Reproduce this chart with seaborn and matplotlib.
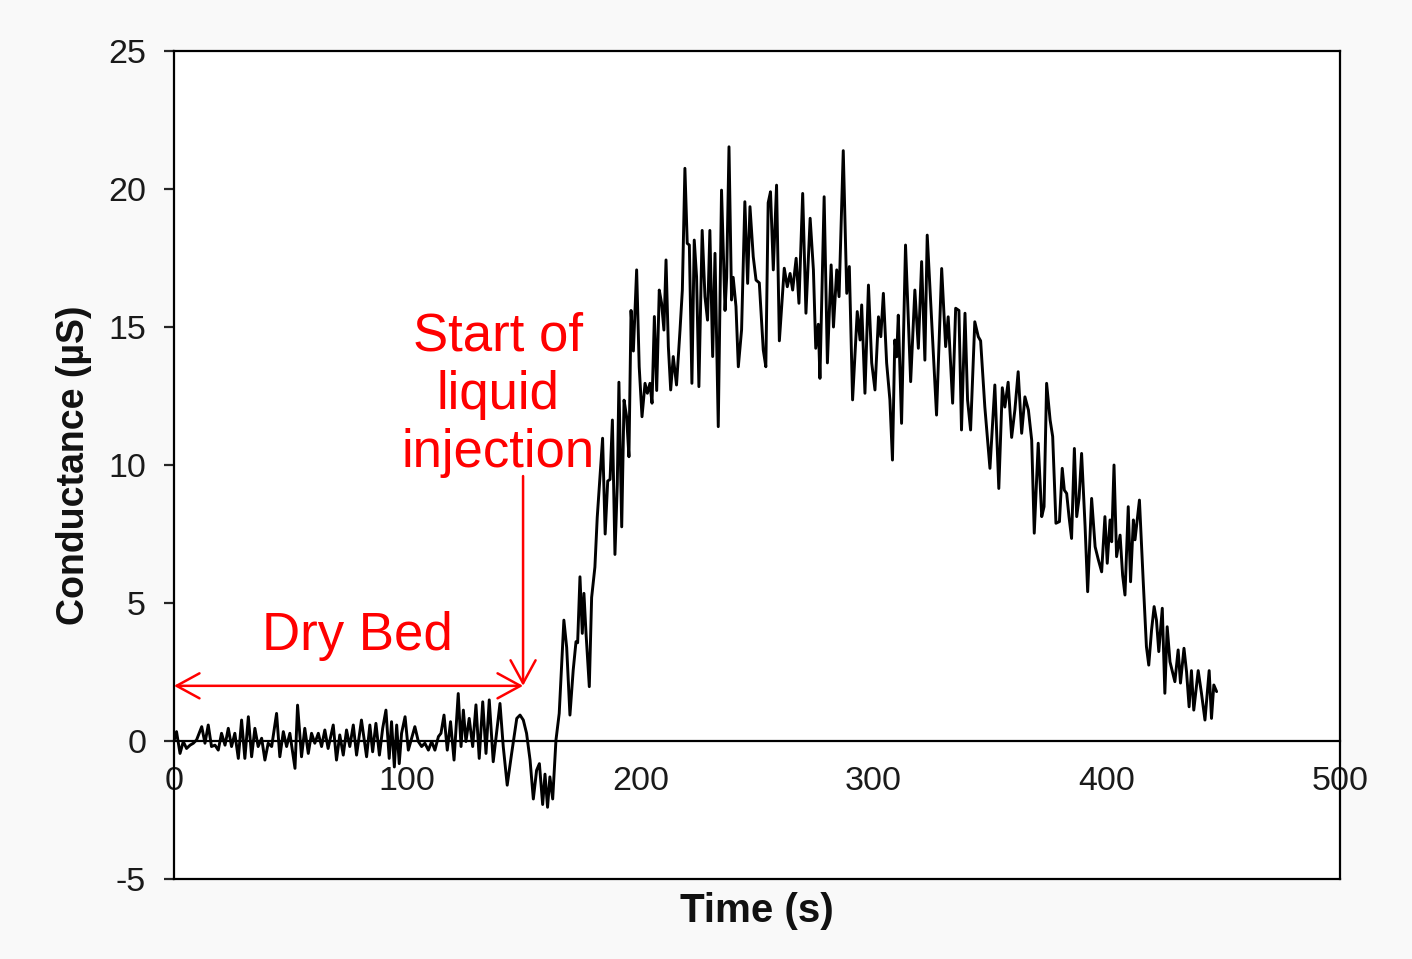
import matplotlib
matplotlib.use("Agg")
import matplotlib.pyplot as plt
import seaborn as sns
import pandas as pd

# ---------------- data ----------------
time_s = [
    0.0, 1.1, 2.6, 4.0, 5.4, 6.9, 8.3, 9.7, 11.9, 13.3, 14.7, 16.1, 17.6, 19.0, 20.4, 21.9,
    23.3, 24.7, 26.1, 27.6, 29.0, 30.4, 31.9, 33.3, 34.7, 36.1, 37.6, 39.0, 40.4, 41.9, 44.0,
    45.4, 46.9, 48.3, 49.7, 51.9, 53.0, 54.7, 56.1, 57.6, 59.0, 60.4, 61.9, 63.3, 64.7, 66.1,
    68.3, 69.7, 71.1, 72.6, 74.0, 75.4, 76.9, 78.3, 80.4,
    82.6, 84.0, 85.2, 86.6, 88.1, 89.5, 90.9, 92.3, 93.3, 94.5, 95.5, 96.6, 97.6, 99.1, 100.5,
    101.9, 103.3, 104.8, 106.2, 107.6, 109.1, 110.5, 111.9, 113.4, 114.5, 115.8, 117.2, 118.6,
    120.1, 121.9, 123.1, 124.1, 125.2, 126.6, 128.1, 129.5, 130.9, 132.4, 133.8, 135.2, 136.9,
    138.4, 139.8, 141.2, 142.9, 144.8, 147.0, 148.4, 149.8, 151.2, 152.7, 154.1, 155.5, 156.7,
    158.1, 159.1, 160.2, 161.2, 162.4, 163.8,
    165.2, 167.2, 168.4, 169.8, 171.2, 172.4, 173.1, 174.1, 175.1, 175.8, 176.7, 178.1, 179.1,
    180.5, 181.5, 182.7, 183.8, 184.9, 186.0, 187.0, 188.0, 189.1, 190.1, 190.8, 192.0, 193.0,
    194.1, 195.1, 196.0, 197.0, 198.4, 199.5, 200.7, 202.0, 203.0, 204.1, 205.0, 206.0, 207.0,
    208.1, 209.1, 210.1, 211.0, 212.0, 213.0, 214.1, 215.5, 217.0, 218.0, 219.1, 220.1, 221.0,
    222.1, 223.1, 224.1, 225.1, 226.5, 227.7, 228.8, 229.8, 231.0, 232.0, 233.4, 234.8, 236.3,
    237.0, 238.0, 239.1, 239.8, 241.0, 242.0, 243.4, 244.8, 246.0, 247.0, 248.4, 249.6, 251.0,
    252.7, 253.8, 254.8, 255.8, 257.0, 258.4, 259.6,
    261.7, 263.0, 264.2, 265.3, 266.8, 268.0, 269.6, 271.0, 272.8, 274.2, 275.2, 276.3, 277.0,
    278.8, 280.2, 281.8, 282.8, 284.2, 285.2, 287.0, 288.5, 289.6, 291.0, 293.0, 294.2, 294.9,
    296.3, 297.8, 299.2, 300.6, 302.1, 303.1, 304.2, 305.6,
    307.0, 308.1, 309.1, 309.9, 310.6, 312.0, 313.7, 315.9, 317.7, 319.2, 320.6, 322.0, 323.0,
    327.0, 329.2, 330.9, 332.0, 333.9, 335.2, 336.6, 337.7, 339.2, 340.3, 341.6, 343.4, 344.9,
    345.9, 347.7, 349.9, 352.0, 353.7, 355.2, 356.3, 357.7, 359.2, 360.6, 362.0,
    363.5, 364.9, 366.4, 367.8, 368.9, 370.6, 372.1, 373.1, 374.2, 375.7, 376.8, 378.2, 379.7,
    380.9, 381.8, 382.8, 383.8, 384.9, 386.1, 387.1, 388.1, 389.2, 390.7, 391.8, 393.5, 395.0,
    396.4, 397.8, 399.2, 400.2, 401.4, 402.1, 403.1, 404.2, 405.7, 406.8, 407.8, 409.2, 410.2,
    411.4, 412.1, 414.0,
    415.6, 417.0, 418.0, 419.2, 420.3, 421.3, 422.3, 423.8, 424.9, 425.9, 427.1, 429.2, 430.6,
    431.6, 433.1, 434.2, 435.3, 436.3, 437.3, 439.2, 440.6, 442.1, 443.9, 444.9, 445.9, 447.1,
]

conductance_uS = [
    0.0, 0.34, -0.45, -0.02, -0.27, -0.15, -0.08, 0.04, 0.52, -0.08, 0.58, -0.2, -0.15, -0.33,
    0.28, -0.15, 0.46, -0.2, 0.28, -0.63, 0.76, -0.63, 0.88, -0.57, 0.46, -0.2, 0.1, -0.69,
    -0.08, -0.2, 1.0, -0.57, 0.34, -0.2, 0.28, -0.99, 1.3, -0.57, 0.46, -0.45, 0.28, -0.08,
    0.28, -0.2, 0.4, -0.27, 0.58, -0.69, 0.22, -0.51, 0.4, -0.2, 0.58, -0.51, 0.76,
    -0.57, 0.58, -0.39, 0.64, -0.51, 0.46, 1.12, -0.63, 0.70, -0.94, 0.58, -0.82, 0.28, 0.88,
    -0.33, 0.10, 0.52, -0.02, -0.2, -0.08, -0.33, -0.02, -0.33, 0.16, 0.28, 0.94, -0.33, 0.70,
    -0.69, 1.72, -0.2, 1.12, -0.02, 0.82, -0.2, 1.31, -0.63, 1.42, -0.45, 1.49, -0.75,
    0.34, 1.36, -0.2, -1.6, -0.45, 0.82, 0.94, 0.76, 0.28, -0.69, -2.1, -1.06, -0.82,
    -2.3, -1.2, -2.4, -1.3, -2.1, 0.03,
    1.0, 4.38, 3.39, 0.94, 2.57, 3.6, 3.56, 5.95, 3.9, 5.35, 3.9, 1.97, 5.2,
    6.3, 8.1, 9.58, 10.97, 7.5, 9.42, 9.48, 11.63, 6.76, 9.3, 13.0, 7.76, 12.35,
    11.75, 10.3, 15.6, 14.13, 17.07, 13.56, 11.75, 12.96, 12.6, 12.96, 12.24, 15.38, 12.7,
    16.34, 15.86, 14.89, 17.43, 14.29, 12.72, 13.93, 12.9, 14.89, 16.34, 20.75, 18.03, 17.97,
    12.96, 18.15, 16.82, 12.84, 18.5, 16.1, 15.25, 18.5, 13.93, 17.67, 11.39, 19.96, 15.6,
    16.8, 21.53, 15.98, 16.8, 15.74, 13.56, 14.9, 19.54, 16.58, 19.36, 17.55, 16.7, 16.6,
    14.17, 13.56, 19.5, 19.9, 17.07, 20.14, 14.5,
    17.13, 16.46, 16.94, 16.34, 17.49, 15.86, 19.84, 15.5, 18.94, 17.07, 14.23, 15.1, 13.14,
    19.72, 13.7, 17.25, 15.0, 17.07, 16.1, 21.39, 16.22, 17.19, 12.36, 15.56, 14.53, 15.8,
    12.6, 16.52, 13.7, 12.72, 15.37, 14.65, 16.22, 13.7,
    12.36, 10.18, 14.53, 13.92, 15.43, 11.51, 17.97, 13.02, 16.34, 14.23, 17.37, 13.8, 18.33,
    11.81, 17.12, 14.29, 15.37, 12.24, 15.68, 15.6, 11.27, 15.5, 12.36, 11.27, 15.19, 14.65,
    14.5, 12.11, 9.88, 12.9, 9.15, 12.8, 12.1, 13.0, 11.0, 12.0, 13.38,
    11.15, 12.47, 11.99, 10.9, 7.53, 10.79, 8.13, 8.49, 12.96, 11.63, 11.03, 7.89, 7.95,
    9.88, 9.09, 8.97, 8.13, 7.34, 10.6, 8.13, 8.79, 10.42, 7.77, 5.41, 8.79, 7.04,
    6.56, 6.13, 8.13, 6.44, 8.01, 7.22, 10.0, 6.68, 7.46, 6.0, 5.29, 8.49, 5.77,
    8.01, 7.29, 8.73,
    5.83, 3.42, 2.75, 4.02, 4.87, 4.38, 3.24, 4.81, 1.73, 4.14, 2.87, 2.15, 3.3,
    2.1, 3.36, 2.51, 1.24, 2.55, 1.12, 2.55, 1.73, 0.76, 2.55, 0.82, 2.03, 1.79,
]

x_ticks = [0, 100, 200, 300, 400, 500]
y_ticks = [-5, 0, 5, 10, 15, 20, 25]
x_label = "Time (s)"
y_label = "Conductance (µS)"
dry_bed_label = "Dry Bed"
injection_label = "Start of\nliquid\ninjection"
dry_bed_end = 149.7          # s, end of the dry-bed period (arrow tip)
arrow_level = 2.0            # µS, height of the dry-bed arrow
injection_arrow_top = 9.6    # µS, top of the injection pointer

# ---------------- style ----------------
sns.set_style("white")
plt.rcParams["font.family"] = ["Liberation Sans", "DejaVu Sans"]
plt.rcParams["axes.unicode_minus"] = False
RED = "#ff0000"

df = pd.DataFrame({"t": time_s, "g": conductance_uS})

fig = plt.figure(figsize=(14.12, 9.59), dpi=100, facecolor="#f9f9f9")
ax = fig.add_axes([0.1232, 0.0834, 0.8258, 0.8634])
ax.set_facecolor("white")

sns.lineplot(data=df, x="t", y="g", ax=ax, color="black", linewidth=2.1,
             estimator=None, sort=False)
for ln in ax.get_lines():
    ln.set_solid_joinstyle("round")

ax.set_xlim(0, 500)
ax.set_ylim(-5, 25)
ax.set_xticks(x_ticks)
ax.set_yticks(y_ticks)

# spines: full box, with the x axis drawn through y = 0
for s in ["left", "right", "top", "bottom"]:
    ax.spines[s].set_visible(True)
    ax.spines[s].set_color("black")
    ax.spines[s].set_linewidth(1.6)
ax.spines["bottom"].set_position(("data", 0))
ax.plot([0, 1], [0, 0], transform=ax.transAxes, color="black", lw=1.6,
        clip_on=False, solid_capstyle="projecting")

ax.tick_params(axis="y", direction="out", length=7, width=1.6, pad=13,
               labelsize=24.5, labelcolor="#1a1a1a", left=True)
ax.tick_params(axis="x", length=0, pad=18, labelsize=24.5, labelcolor="#1a1a1a")

ax.set_xlabel(x_label, fontsize=29, fontweight="bold", color="#111111")
ax.set_ylabel(y_label, fontsize=27, fontweight="bold", color="#111111", labelpad=12)
ax.xaxis.set_label_coords(0.5, -0.016)

# annotations
head = "head_length=0.55,head_width=0.3"
ax.annotate("", xy=(0, arrow_level), xytext=(dry_bed_end, arrow_level),
            arrowprops=dict(arrowstyle="<->," + head, color=RED, lw=1.8,
                            mutation_scale=30, shrinkA=0, shrinkB=0))
ax.annotate("", xy=(dry_bed_end, arrow_level), xytext=(dry_bed_end, injection_arrow_top),
            arrowprops=dict(arrowstyle="->," + head, color=RED, lw=1.8,
                            mutation_scale=30, shrinkA=0, shrinkB=0))
ax.text(78.5, 3.80, dry_bed_label, color=RED, fontsize=38,
        ha="center", va="center")
ax.text(139.0, 12.55, injection_label, color=RED, fontsize=38,
        ha="center", va="center", multialignment="center", linespacing=1.22)

fig.savefig("out.png", dpi=100, facecolor=fig.get_facecolor())
